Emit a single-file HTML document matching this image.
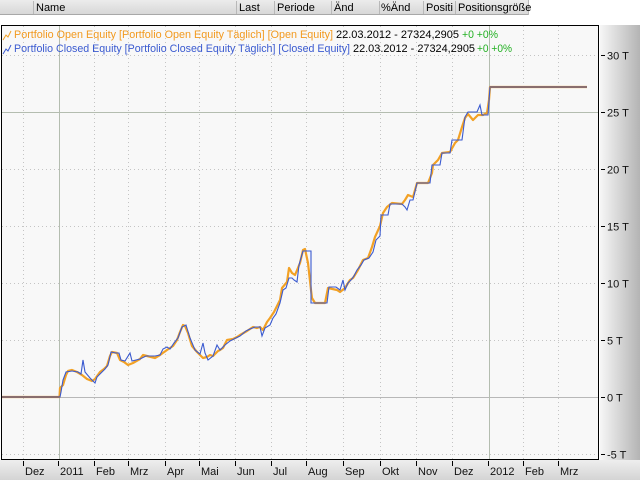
<!DOCTYPE html>
<html><head><meta charset="utf-8"><style>
html,body{margin:0;padding:0;background:#fff;}
svg{display:block;}
text{font-family:"Liberation Sans",Arial,sans-serif;}
</style></head><body>
<svg width="640" height="480" viewBox="0 0 640 480" xmlns="http://www.w3.org/2000/svg">
<defs>
<linearGradient id="hdr" x1="0" y1="0" x2="0" y2="1"><stop offset="0" stop-color="#ececec"/><stop offset="1" stop-color="#d6d6d6"/></linearGradient>
<linearGradient id="rp" x1="0" y1="0" x2="1" y2="0"><stop offset="0" stop-color="#f6f6f6"/><stop offset="1" stop-color="#b4b4b4"/></linearGradient>
<linearGradient id="bp" x1="0" y1="0" x2="0" y2="1"><stop offset="0" stop-color="#eeeeee"/><stop offset="1" stop-color="#d4d4d4"/></linearGradient>
</defs>
<rect x="0" y="0" width="640" height="480" fill="#ffffff"/>
<!-- header -->
<rect x="0" y="0" width="528" height="15" fill="url(#hdr)"/>
<line x1="0" y1="14.5" x2="528" y2="14.5" stroke="#a8a8a8"/>
<g stroke="#b8b8b8">
<line x1="33.5" y1="1" x2="33.5" y2="14"/><line x1="236.5" y1="1" x2="236.5" y2="14"/><line x1="274.5" y1="1" x2="274.5" y2="14"/><line x1="331.5" y1="1" x2="331.5" y2="14"/><line x1="379.5" y1="1" x2="379.5" y2="14"/><line x1="423.5" y1="1" x2="423.5" y2="14"/><line x1="455.5" y1="1" x2="455.5" y2="14"/><line x1="528.5" y1="0" x2="528.5" y2="15"/>
</g>
<g font-size="11" fill="#000">
<text x="36" y="11">Name</text><text x="239" y="11">Last</text><text x="277" y="11">Periode</text><text x="334" y="11">Änd</text><text x="381" y="11">%Änd</text><text x="426" y="11">Positi</text><text x="458" y="11">Positionsgröße</text>
</g>
<!-- right & bottom panels -->
<rect x="600" y="25" width="40" height="436" fill="url(#rp)"/>
<rect x="0" y="460" width="640" height="20" fill="url(#bp)"/>
<!-- plot -->
<rect x="1.5" y="25.5" width="597" height="434" fill="#f8f8f8" stroke="#000" stroke-width="1"/>
<!-- grid -->
<g stroke="#c4c4c4" stroke-dasharray="1,3">
<line x1="2" y1="55.5" x2="598" y2="55.5"/><line x1="2" y1="169.5" x2="598" y2="169.5"/><line x1="2" y1="226.5" x2="598" y2="226.5"/><line x1="2" y1="283.5" x2="598" y2="283.5"/><line x1="2" y1="340.5" x2="598" y2="340.5"/><line x1="2" y1="454.5" x2="598" y2="454.5"/>
<line x1="23.5" y1="26" x2="23.5" y2="459"/><line x1="94.5" y1="26" x2="94.5" y2="459"/><line x1="128.5" y1="26" x2="128.5" y2="459"/><line x1="165.5" y1="26" x2="165.5" y2="459"/><line x1="199.5" y1="26" x2="199.5" y2="459"/><line x1="235.5" y1="26" x2="235.5" y2="459"/><line x1="271.5" y1="26" x2="271.5" y2="459"/><line x1="306.5" y1="26" x2="306.5" y2="459"/><line x1="343.5" y1="26" x2="343.5" y2="459"/><line x1="380.5" y1="26" x2="380.5" y2="459"/><line x1="416.5" y1="26" x2="416.5" y2="459"/><line x1="452.5" y1="26" x2="452.5" y2="459"/><line x1="523.5" y1="26" x2="523.5" y2="459"/><line x1="558.5" y1="26" x2="558.5" y2="459"/>
</g>
<g stroke="#b4bdb0" stroke-width="1">
<line x1="2" y1="112.5" x2="598" y2="112.5"/><line x1="2" y1="397.5" x2="598" y2="397.5" stroke="#b8b8b8"/>
<line x1="59.5" y1="26" x2="59.5" y2="459"/><line x1="489.5" y1="26" x2="489.5" y2="459"/>
</g>
<!-- series -->
<polyline fill="none" stroke="#f2a125" stroke-width="2.2" stroke-linejoin="round" points="2,397 59.5,397 60,388 63,385 66,375 68,371 72,370 77,372 82,375 87,379 92,381 95,379 100,372 104,369 107,366 110,356 112,352 117,353 120,360 124,362 128,365 133,363 140,359 143,355 147,356 155,358 160,355 167,350 173,346 177,340 180,332 183,325 185,326 188,333 192,346 197,352 200,355 203,358 207,357 210,355 213,356 218,351 220,350 223,348 227,340 233,339 237,337 240,335 247,331 253,327 257,328 260,327 263,330 267,322 270,318 274,312 277,306 280,300 282,288 287,282 289,268 292,273 295,275 300,263 303,250 305,249 308,263 311,290 312,298 315,303 325,303 328,288 337,290 340,292 345,288 350,280 353,278 358,270 363,260 368,258 372,247 375,237 380,226 383,213 387,207 392,203 402,204 405,200 408,195 413,197 417,183 428,183 432,173 433,165 438,160 442,153 450,152 455,143 458,140 462,127 465,118 468,114 473,120 478,115 483,115 487,113 489,100 490,87 587,87"/>
<polyline fill="none" stroke="#3a5ad0" stroke-width="1.1" stroke-linejoin="miter" points="2,397 60,397 61,392 63,380 66,372 72,371 78,372 81,374 83,360 85,372 90,378 95,383 97,377 101,373 105,369 108,365 111,352 116,353 119,353 121,360 125,361 130,353 132,361 140,359 146,356 155,356 160,355 163,349 167,347 170,349 174,343 178,338 182,327 186,325 190,338 195,350 200,354 203,343 205,353 208,360 213,356 217,345 220,350 225,345 230,341 236,338 240,336 246,331 250,329 255,327 260,327 262,336 265,328 270,325 273,318 276,314 280,303 283,290 286,288 289,278 292,278 294,280 297,282 299,265 303,251 311,251 311,303 327,303 329,287 336,287 340,290 343,280 345,290 348,283 351,280 354,276 357,270 361,265 364,260 369,258 373,252 376,240 380,236 381,215 388,215 390,204 402,204 405,207 407,210 410,200 413,200 417,183 430,183 432,165 440,165 442,153 450,153 452,140 462,140 465,117 468,112 477,112 480,105 482,115 488,115 490,87 587,87"/>
<g stroke="#8a6e6e" stroke-width="2">
<line x1="2" y1="397" x2="59.5" y2="397"/><line x1="490" y1="87" x2="587" y2="87"/>
</g>
<!-- legend -->
<polyline fill="none" stroke="#f2a125" stroke-width="1" points="3,40 6,35 8,37 11,31"/>
<polyline fill="none" stroke="#3a5ad0" stroke-width="1" points="3,54 6,49 8,51 11,45"/>
<g font-size="11">
<text x="14" y="38" fill="#f29a20" textLength="319" lengthAdjust="spacingAndGlyphs">Portfolio Open Equity [Portfolio Open Equity  Täglich] [Open Equity]</text>
<text x="336" y="38" fill="#000" textLength="123" lengthAdjust="spacingAndGlyphs">22.03.2012 - 27324,2905</text>
<text x="462" y="38" fill="#22b022" textLength="36" lengthAdjust="spacingAndGlyphs">+0 +0%</text>
<text x="14" y="52" fill="#3a5ad0" textLength="336" lengthAdjust="spacingAndGlyphs">Portfolio Closed Equity [Portfolio Closed Equity  Täglich] [Closed Equity]</text>
<text x="353" y="52" fill="#000" textLength="122" lengthAdjust="spacingAndGlyphs">22.03.2012 - 27324,2905</text>
<text x="477" y="52" fill="#22b022" textLength="35" lengthAdjust="spacingAndGlyphs">+0 +0%</text>
</g>
<!-- right axis -->
<g stroke="#000">
<line x1="601" y1="55.5" x2="605" y2="55.5"/><line x1="601" y1="112.5" x2="605" y2="112.5"/><line x1="601" y1="169.5" x2="605" y2="169.5"/><line x1="601" y1="226.5" x2="605" y2="226.5"/><line x1="601" y1="283.5" x2="605" y2="283.5"/><line x1="601" y1="340.5" x2="605" y2="340.5"/><line x1="601" y1="397.5" x2="605" y2="397.5"/><line x1="601" y1="454.5" x2="605" y2="454.5"/>
</g>
<g font-size="11" fill="#111">
<text x="607" y="59.5">30 T</text><text x="607" y="116.5">25 T</text><text x="607" y="173.5">20 T</text><text x="607" y="230.5">15 T</text><text x="607" y="287.5">10 T</text><text x="607" y="344.5">5 T</text><text x="607" y="401.5">0 T</text><text x="607" y="458.5">-5 T</text>
</g>
<!-- bottom axis -->
<g stroke="#000">
<line x1="23.5" y1="461" x2="23.5" y2="466"/><line x1="58.5" y1="461" x2="58.5" y2="466"/><line x1="94.5" y1="461" x2="94.5" y2="466"/><line x1="128.5" y1="461" x2="128.5" y2="466"/><line x1="165.5" y1="461" x2="165.5" y2="466"/><line x1="199.5" y1="461" x2="199.5" y2="466"/><line x1="235.5" y1="461" x2="235.5" y2="466"/><line x1="271.5" y1="461" x2="271.5" y2="466"/><line x1="306.5" y1="461" x2="306.5" y2="466"/><line x1="343.5" y1="461" x2="343.5" y2="466"/><line x1="380.5" y1="461" x2="380.5" y2="466"/><line x1="416.5" y1="461" x2="416.5" y2="466"/><line x1="452.5" y1="461" x2="452.5" y2="466"/><line x1="488.5" y1="461" x2="488.5" y2="466"/><line x1="523.5" y1="461" x2="523.5" y2="466"/><line x1="558.5" y1="461" x2="558.5" y2="466"/>
</g>
<g font-size="11" fill="#111">
<text x="25" y="475">Dez</text><text x="60" y="475">2011</text><text x="96" y="475">Feb</text><text x="130" y="475">Mrz</text><text x="167" y="475">Apr</text><text x="201" y="475">Mai</text><text x="237" y="475">Jun</text><text x="273" y="475">Jul</text><text x="308" y="475">Aug</text><text x="345" y="475">Sep</text><text x="382" y="475">Okt</text><text x="418" y="475">Nov</text><text x="454" y="475">Dez</text><text x="490" y="475">2012</text><text x="525" y="475">Feb</text><text x="560" y="475">Mrz</text>
</g>
</svg>
</body></html>
